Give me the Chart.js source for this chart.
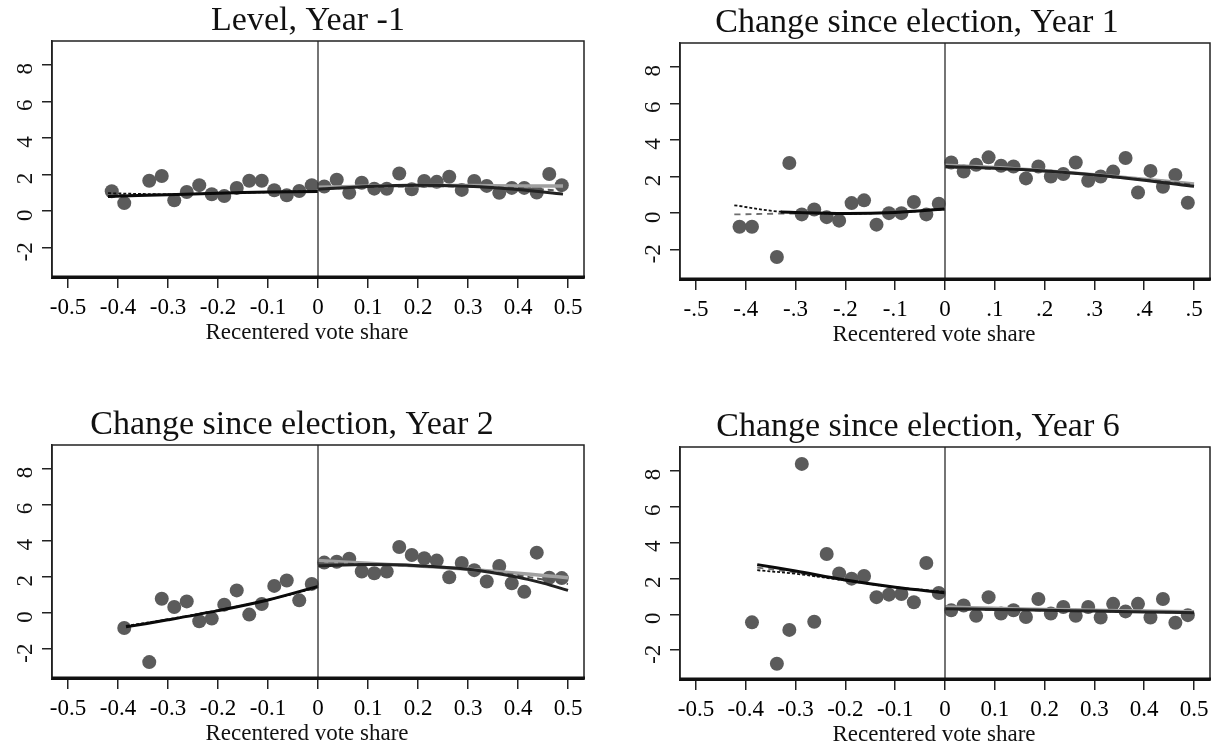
<!DOCTYPE html>
<html>
<head>
<meta charset="utf-8">
<script src="https://cdn.jsdelivr.net/npm/chart.js@4.4.1/dist/chart.umd.min.js"></script>
<style>
  html, body { margin: 0; padding: 0; background: #fff; }
  #wrap { position: relative; width: 1220px; height: 750px; overflow: hidden; }
  #wrap canvas { position: absolute; }
</style>
</head>
<body>
<div id="wrap"></div>
<script>
// axis ticks shared by all four panels
const xTickValues = [-0.5, -0.4, -0.3, -0.2, -0.1, 0, 0.1, 0.2, 0.3, 0.4, 0.5];
const xTickLabels = ["-0.5", "-0.4", "-0.3", "-0.2", "-0.1", "0", "0.1", "0.2", "0.3", "0.4", "0.5"];
const xTickLabelsShort = ["-.5", "-.4", "-.3", "-.2", "-.1", "0", ".1", ".2", ".3", ".4", ".5"];
const yTickValues = [-2, 0, 2, 4, 6, 8];
const yTickLabels = ["-2", "0", "2", "4", "6", "8"];
const xMin = -0.532, xMax = 0.532;
const yMin = -3.6, yMax = 9.3;
const cutoff = 0;
const xAxisTitle = "Recentered vote share";

// bin centres (vote share)
const binsLeft16 = [-0.4125, -0.3875, -0.3375, -0.3125, -0.2875, -0.2625, -0.2375, -0.2125, -0.1875, -0.1625, -0.1375, -0.1125, -0.0875, -0.0625, -0.0375, -0.0125];
const binsLeft15 = [-0.3875, -0.3375, -0.3125, -0.2875, -0.2625, -0.2375, -0.2125, -0.1875, -0.1625, -0.1375, -0.1125, -0.0875, -0.0625, -0.0375, -0.0125];
const binsRight = [0.0125, 0.0375, 0.0625, 0.0875, 0.1125, 0.1375, 0.1625, 0.1875, 0.2125, 0.2375, 0.2625, 0.2875, 0.3125, 0.3375, 0.3625, 0.3875, 0.4125, 0.4375, 0.4625, 0.4875];

// Level, Year -1
const lvlLeftY = [1.09, 0.44, 1.66, 1.92, 0.59, 1.05, 1.42, 0.92, 0.83, 1.27, 1.66, 1.66, 1.14, 0.87, 1.10, 1.42];
const lvlRightY = [1.35, 1.72, 1.00, 1.55, 1.23, 1.22, 2.06, 1.20, 1.65, 1.60, 1.88, 1.16, 1.65, 1.38, 1.00, 1.27, 1.27, 1.02, 2.03, 1.42];
// Year 1
const y1LeftY = [-0.74, -0.74, -2.40, 2.74, -0.07, 0.20, -0.22, -0.41, 0.55, 0.70, -0.63, 0.00, 0.00, 0.61, -0.07, 0.52];
const y1RightY = [2.77, 2.27, 2.64, 3.05, 2.59, 2.55, 1.90, 2.55, 2.00, 2.14, 2.77, 1.77, 2.00, 2.27, 3.01, 1.13, 2.31, 1.44, 2.09, 0.57];
// Year 2
const y2LeftY = [-0.83, -2.72, 0.79, 0.33, 0.64, -0.46, -0.31, 0.46, 1.25, -0.09, 0.50, 1.50, 1.80, 0.70, 1.61];
const y2RightY = [2.79, 2.84, 3.00, 2.30, 2.20, 2.29, 3.65, 3.21, 3.03, 2.90, 1.98, 2.77, 2.37, 1.74, 2.60, 1.64, 1.17, 3.34, 1.95, 1.93];
// Year 6
const y6LeftY = [-0.45, -2.75, -0.87, 8.36, -0.42, 3.35, 2.27, 1.98, 2.13, 0.95, 1.09, 1.13, 0.67, 2.85, 1.18];
const y6RightY = [0.22, 0.49, -0.09, 0.95, 0.04, 0.22, -0.15, 0.85, 0.04, 0.40, -0.09, 0.40, -0.18, 0.58, 0.16, 0.58, -0.18, 0.85, -0.47, -0.05];

// fitted curves (x positions, then heights)
const fitLeftX1 = [-0.42, -0.3, -0.2, -0.1, 0];
const fitRightX1 = [0, 0.1, 0.2, 0.3, 0.4, 0.49];
const lvlFitLeft = [0.80, 0.90, 0.98, 1.04, 1.08];
const lvlFitLeftDash = [0.98, 0.92, 0.98, 1.04, 1.10];
const lvlFitLeftGray = [0.88, 0.92, 0.98, 1.04, 1.10];
const lvlFitRight = [1.20, 1.35, 1.42, 1.36, 1.18, 0.93];
const lvlFitRightDash = [1.22, 1.30, 1.36, 1.34, 1.25, 1.12];
const lvlFitRightGray = [1.30, 1.36, 1.40, 1.40, 1.38, 1.38];

const fitLeftX2 = [-0.423, -0.33, -0.2, -0.1, 0];
const fitLeftX2Solid = [-0.33, -0.2, -0.1, 0];
const fitRightX2 = [0, 0.1, 0.2, 0.3, 0.4, 0.5];
const y1FitLeft = [0.06, -0.02, 0.04, 0.22];
const y1FitLeftDash = [0.43, 0.08, -0.02, 0.04, 0.22];
const y1FitLeftGray = [-0.07, -0.03, -0.02, 0.04, 0.20];
const y1FitRight = [2.55, 2.45, 2.30, 2.08, 1.80, 1.47];
const y1FitRightDash = [2.50, 2.42, 2.28, 2.08, 1.83, 1.55];
const y1FitRightGray = [2.62, 2.50, 2.32, 2.10, 1.85, 1.60];

const fitLeftX3 = [-0.384, -0.3, -0.2, -0.1, 0];
const fitRightX3 = [0, 0.1, 0.2, 0.3, 0.4, 0.45, 0.5];
const y2FitLeft = [-0.77, -0.38, 0.13, 0.72, 1.47];
const y2FitLeftDash = [-0.72, -0.35, 0.15, 0.72, 1.42];
const y2FitLeftGray = [-0.75, -0.37, 0.14, 0.72, 1.45];
const y2FitRight = [2.62, 2.68, 2.62, 2.42, 1.98, 1.65, 1.25];
const y2FitRightDash = [2.75, 2.70, 2.60, 2.42, 2.08, 1.85, 1.60];
const y2FitRightGray = [2.90, 2.75, 2.60, 2.42, 2.20, 2.08, 1.95];

const fitLeftX4 = [-0.377, -0.3, -0.2, -0.1, 0];
const fitRightX4 = [0, 0.1, 0.2, 0.3, 0.4, 0.5];
const y6FitLeft = [2.76, 2.40, 1.90, 1.50, 1.20];
const y6FitLeftDash = [2.45, 2.25, 1.88, 1.50, 1.25];
const y6FitLeftGray = [2.60, 2.32, 1.89, 1.50, 1.22];
const y6FitRight = [0.31, 0.27, 0.22, 0.18, 0.13, 0.09];
const y6FitRightDash = [0.28, 0.25, 0.21, 0.17, 0.13, 0.10];
const y6FitRightGray = [0.40, 0.33, 0.27, 0.22, 0.18, 0.14];

const serif = '"Liberation Serif", "Times New Roman", serif';
const pts = (xs, ys) => xs.map((x, i) => ({ x: x, y: ys[i] }));

// title, x label, rotated y labels and the box round the plot
const panelDecor = {
  id: "panelDecor",
  afterDraw(chart, args, o) {
    const { ctx, chartArea: a } = chart;
    const yScale = chart.scales.y;
    ctx.save();
    ctx.strokeStyle = "#222";
    ctx.lineWidth = 1.5;
    ctx.strokeRect(a.left, a.top, a.right - a.left, a.bottom - a.top);
    ctx.lineWidth = 3;
    ctx.strokeStyle = "#111";
    ctx.beginPath();
    ctx.moveTo(a.left, a.bottom);
    ctx.lineTo(a.right + 1, a.bottom);
    ctx.stroke();

    ctx.fillStyle = "#111";
    ctx.textAlign = "center";
    ctx.textBaseline = "alphabetic";
    ctx.font = "34px " + serif;
    ctx.fillText(o.title, o.titleX, a.top - 11);

    ctx.font = "23px " + serif;
    ctx.textBaseline = "middle";
    ctx.fillText(xAxisTitle, o.xlabX, a.bottom + 56);

    ctx.font = "23px " + serif;
    ctx.textBaseline = "alphabetic";
    yTickValues.forEach((v, i) => {
      ctx.save();
      ctx.translate(a.left - 20, yScale.getPixelForValue(v) + 4);
      ctx.rotate(-Math.PI / 2);
      ctx.fillText(yTickLabels[i], 0, 0);
      ctx.restore();
    });
    ctx.restore();
  }
};

function fitLine(xs, ys, color, width, dash, order) {
  return {
    data: pts(xs, ys),
    showLine: true,
    pointRadius: 0,
    borderColor: color,
    borderWidth: width,
    borderDash: dash,
    tension: 0.35,
    order: order
  };
}

function makePanel(p) {
  const wrap = document.getElementById("wrap");
  const canvas = document.createElement("canvas");
  canvas.width = p.box.w;
  canvas.height = p.box.h;
  canvas.style.left = p.box.x + "px";
  canvas.style.top = p.box.y + "px";
  canvas.style.width = p.box.w + "px";
  canvas.style.height = p.box.h + "px";
  wrap.appendChild(canvas);

  const yWidth = p.area.left - p.box.x;
  const xHeight = p.box.y + p.box.h - p.area.bottom;

  new Chart(canvas, {
    type: "scatter",
    data: {
      datasets: [
        {
          data: [{ x: cutoff, y: yMin }, { x: cutoff, y: yMax }],
          showLine: true, pointRadius: 0, borderColor: "#3a3a3a", borderWidth: 1.4, order: 1
        },
        fitLine(p.fitLX, p.fitL, "#0a0a0a", 3, [], 3),
        fitLine(p.fitLDX || p.fitLX, p.fitLDash, "#111", 1.8, [3, 2], 4),
        fitLine(p.fitLDX || p.fitLX, p.fitLGray, "#6e6e6e", 1.8, [6, 5], 5),
        fitLine(p.fitRX, p.fitR, "#222", 3, [], 3),
        fitLine(p.fitRX, p.fitRDash, "#555", 2, [6, 4], 4),
        fitLine(p.fitRX, p.fitRGray, "#a0a0a0", 3.5, [], 5),
        {
          data: pts(p.leftX, p.leftY).concat(pts(binsRight, p.rightY)),
          showLine: false,
          pointRadius: 7,
          pointBackgroundColor: "#5b5b5b",
          pointBorderWidth: 0,
          order: 10
        }
      ]
    },
    options: {
      responsive: false,
      animation: false,
      events: [],
      layout: {
        padding: {
          left: 0,
          top: p.area.top - p.box.y,
          right: p.box.x + p.box.w - p.area.right,
          bottom: 0
        }
      },
      plugins: {
        legend: { display: false },
        tooltip: { enabled: false },
        panelDecor: { title: p.title, titleX: p.titleX - p.box.x, xlabX: p.xlabX - p.box.x }
      },
      scales: {
        x: {
          type: "linear",
          min: xMin,
          max: xMax,
          afterBuildTicks: (s) => { s.ticks = xTickValues.map(v => ({ value: v })); },
          afterFit: (s) => { s.height = xHeight; },
          border: { display: true, width: 3, color: "#111" },
          grid: { display: true, drawOnChartArea: false, drawTicks: true, tickLength: 11, color: "#222", lineWidth: 1.5 },
          ticks: {
            autoSkip: false, maxRotation: 0, minRotation: 0, padding: 6,
            color: "#000", font: { family: serif, size: 23 },
            callback: (v, i) => p.xLabels[i]
          }
        },
        y: {
          type: "linear",
          min: yMin,
          max: yMax,
          afterBuildTicks: (s) => { s.ticks = yTickValues.map(v => ({ value: v })); },
          afterFit: (s) => { s.width = yWidth; },
          border: { display: true, width: 1.5, color: "#222" },
          grid: { display: true, drawOnChartArea: false, drawTicks: true, tickLength: 10, color: "#222", lineWidth: 1.5 },
          ticks: { display: false }
        }
      }
    },
    plugins: [panelDecor]
  });
}

makePanel({
  title: "Level, Year -1", titleX: 308, xlabX: 307, xLabels: xTickLabels,
  box: { x: 0, y: 0, w: 616, h: 372 }, area: { left: 52, top: 41, right: 584, bottom: 277 },
  leftX: binsLeft16, leftY: lvlLeftY, rightY: lvlRightY,
  fitLX: fitLeftX1, fitL: lvlFitLeft, fitLDash: lvlFitLeftDash, fitLGray: lvlFitLeftGray,
  fitRX: fitRightX1, fitR: lvlFitRight, fitRDash: lvlFitRightDash, fitRGray: lvlFitRightGray
});
makePanel({
  title: "Change since election, Year 1", titleX: 917, xlabX: 934, xLabels: xTickLabelsShort,
  box: { x: 616, y: 0, w: 604, h: 372 }, area: { left: 680, top: 43, right: 1210, bottom: 279 },
  leftX: binsLeft16, leftY: y1LeftY, rightY: y1RightY,
  fitLX: fitLeftX2Solid, fitLDX: fitLeftX2, fitL: y1FitLeft, fitLDash: y1FitLeftDash, fitLGray: y1FitLeftGray,
  fitRX: fitRightX2, fitR: y1FitRight, fitRDash: y1FitRightDash, fitRGray: y1FitRightGray
});
makePanel({
  title: "Change since election, Year 2", titleX: 292, xlabX: 307, xLabels: xTickLabels,
  box: { x: 0, y: 390, w: 616, h: 360 }, area: { left: 52, top: 445, right: 584, bottom: 678 },
  leftX: binsLeft15, leftY: y2LeftY, rightY: y2RightY,
  fitLX: fitLeftX3, fitL: y2FitLeft, fitLDash: y2FitLeftDash, fitLGray: y2FitLeftGray,
  fitRX: fitRightX3, fitR: y2FitRight, fitRDash: y2FitRightDash, fitRGray: y2FitRightGray
});
makePanel({
  title: "Change since election, Year 6", titleX: 918, xlabX: 934, xLabels: xTickLabels,
  box: { x: 616, y: 390, w: 604, h: 360 }, area: { left: 680, top: 447, right: 1210, bottom: 679 },
  leftX: binsLeft15, leftY: y6LeftY, rightY: y6RightY,
  fitLX: fitLeftX4, fitL: y6FitLeft, fitLDash: y6FitLeftDash, fitLGray: y6FitLeftGray,
  fitRX: fitRightX4, fitR: y6FitRight, fitRDash: y6FitRightDash, fitRGray: y6FitRightGray
});
</script>
</body>
</html>
